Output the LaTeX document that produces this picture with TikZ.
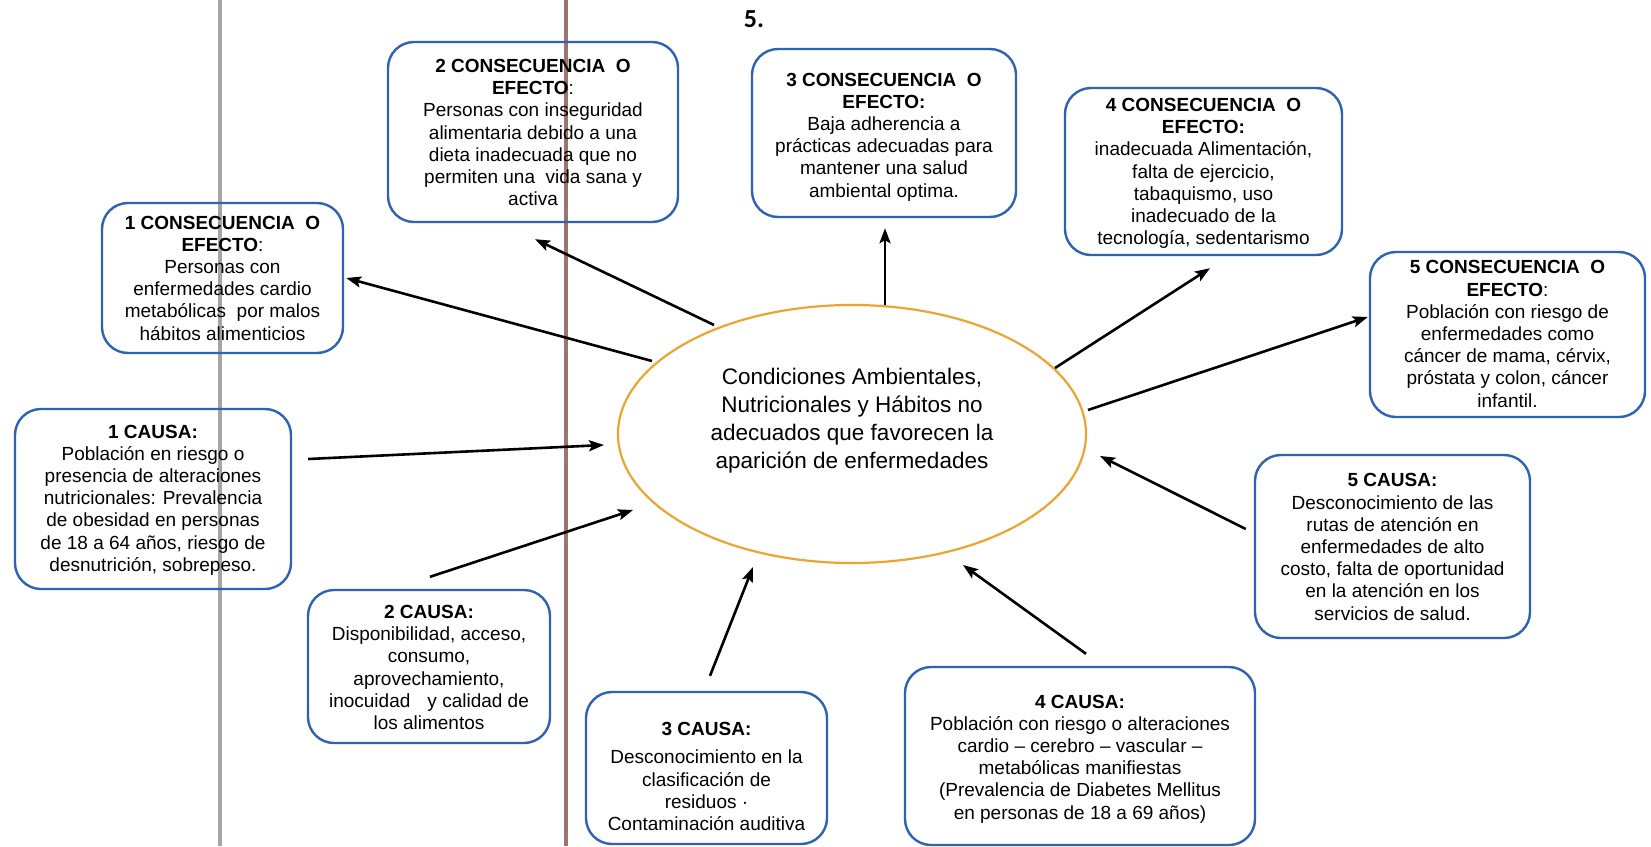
\documentclass[tikz,border=0pt]{standalone}
\usepackage{fontspec}
\setmainfont{Liberation Sans}
\newfontfamily\numfont{Carlito}
\usetikzlibrary{arrows.meta,calc,shapes.geometric}
\definecolor{boxblue}{HTML}{2E62B5}
\definecolor{ellorange}{HTML}{EDA531}
\definecolor{greyline}{HTML}{A8A4A2}
\definecolor{brownline}{HTML}{9E746C}
\tikzset{
  box/.style={draw=boxblue, line width=2.4pt, rounded corners=26pt, inner sep=0pt},
  txt/.style={align=center, inner sep=0pt, font=\fontsize{19}{22.2}\selectfont},
  arr/.style={-{Stealth[length=15pt,width=11pt,inset=3pt]}, line width=2.6pt, black},
  ellshape/.style={ellipse, draw=ellorange, line width=2.2pt, inner sep=0pt},
}
\begin{document}
\begin{tikzpicture}[x=1pt,y=-1pt]
\useasboundingbox (0,0) rectangle (1651,846);
\fill[white] (0,0) rectangle (1651,846);
% notebook lines
\draw[greyline, line width=4pt] (220,0) -- (220,846);
\draw[brownline, line width=4.5pt] (566,0) -- (566,846);

% title number
\node[font=\numfont\bfseries\fontsize{26}{30}\selectfont, inner sep=0pt] (num) at (754,19) {5.};

% central ellipse
\node[ellshape, minimum width=468pt, minimum height=258pt] (ell) at (852,434) {};
\node[txt, font=\fontsize{22.5}{28}\selectfont] (ellt) at (852,420.5)
  {Condiciones Ambientales,\\Nutricionales y Hábitos no\\adecuados que favorecen la\\aparición de enfermedades};

% consequences
\node[box, minimum width=241pt, minimum height=150pt] (c1) at (222.5,278) {};
\node[txt] (c1t) at (222.5,278)
  {\textbf{1 CONSECUENCIA\ \ O}\\\textbf{EFECTO}:\\Personas con\\enfermedades cardio\\metabólicas\ \ por malos\\hábitos alimenticios};

\node[box, minimum width=290pt, minimum height=180pt] (c2) at (533,132) {};
\node[txt] (c2t) at (533,132.5)
  {\textbf{2 CONSECUENCIA\ \ O}\\\textbf{EFECTO}:\\Personas con inseguridad\\alimentaria debido a una\\dieta inadecuada que no\\permiten una\ \ vida sana y\\activa};

\node[box, minimum width=264pt, minimum height=168pt] (c3) at (884,133) {};
\node[txt] (c3t) at (884,137)
  {\textbf{3 CONSECUENCIA\ \ O}\\\textbf{EFECTO:}\\Baja adherencia a\\prácticas adecuadas para\\mantener una salud\\ambiental optima.};

\node[box, minimum width=277pt, minimum height=167pt] (c4) at (1203.5,171.5) {};
\node[txt] (c4t) at (1203.5,173.5)
  {\textbf{4 CONSECUENCIA\ \ O}\\\textbf{EFECTO:}\\inadecuada Alimentación,\\falta de ejercicio,\\tabaquismo, uso\\inadecuado de la\\tecnología, sedentarismo};

\node[box, minimum width=275pt, minimum height=165pt] (c5) at (1507.5,334.5) {};
\node[txt] (c5t) at (1507.5,334)
  {\textbf{5 CONSECUENCIA\ \ O}\\\textbf{EFECTO}:\\Población con riesgo de\\enfermedades como\\cáncer de mama, cérvix,\\próstata y colon, cáncer\\infantil.};

% causes
\node[box, minimum width=276pt, minimum height=180pt] (k1) at (153,499) {};
\node[txt] (k1t) at (153,500)
  {\textbf{1 CAUSA:}\\Población en riesgo o\\presencia de alteraciones\\nutricionales: Prevalencia\\de obesidad en personas\\de 18 a 64 años, riesgo de\\desnutrición, sobrepeso.};

\node[box, minimum width=242pt, minimum height=153pt] (k2) at (429,666.5) {};
\node[txt] (k2t) at (429,667.5)
  {\textbf{2 CAUSA:}\\Disponibilidad, acceso,\\consumo,\\aprovechamiento,\\inocuidad\hspace{0.9em}y calidad de\\los alimentos};

\node[box, minimum width=241pt, minimum height=152pt] (k3) at (706.5,768) {};
\node[txt] (k3t) at (706.5,776.5)
  {\textbf{3 CAUSA:}\\[6pt]Desconocimiento en la\\clasificación de\\residuos ·\\Contaminación auditiva};

\node[box, minimum width=350pt, minimum height=178pt] (k4) at (1080,756) {};
\node[txt] (k4t) at (1080,759)
  {\textbf{4 CAUSA:}\\Población con riesgo o alteraciones\\cardio – cerebro – vascular –\\metabólicas manifiestas\\(Prevalencia de Diabetes Mellitus\\en personas de 18 a 69 años)};

\node[box, minimum width=275pt, minimum height=183pt] (k5) at (1392.5,546.5) {};
\node[txt] (k5t) at (1392.5,547)
  {\textbf{5 CAUSA:}\\Desconocimiento de las\\rutas de atención en\\enfermedades de alto\\costo, falta de oportunidad\\en la atención en los\\servicios de salud.};

% arrows: ellipse -> consequences
\draw[arr] ($(ell)+(-200,-73)$) -- ($(c1.east)+(2,0)$);
\draw[arr] ($(ell)+(-138,-109)$) -- ($(c2.south)+(2,16)$);
\draw[arr] ($(ell)+(33,-129)$) -- ($(c3.south)+(1,10)$);
\draw[arr] ($(ell)+(203,-66)$) -- ($(c4.south)+(6.5,12)$);
\draw[arr] ($(ell)+(236,-24)$) -- ($(c5.west)+(-1,-17.5)$);
% arrows: causes -> ellipse
\draw[arr] ($(k1.east)+(16,-40)$) -- ($(ell)+(-248,11)$);
\draw[arr] ($(k2.north)+(1,-12)$) -- ($(ell)+(-219,76)$);
\draw[arr] ($(k3.north)+(3.5,-15)$) -- ($(ell)+(-99,133)$);
\draw[arr] ($(k4.north)+(6,-12)$) -- ($(ell)+(111,131)$);
\draw[arr] ($(k5.west)+(-8,-17.5)$) -- ($(ell)+(248,22)$);
\end{tikzpicture}
\end{document}
